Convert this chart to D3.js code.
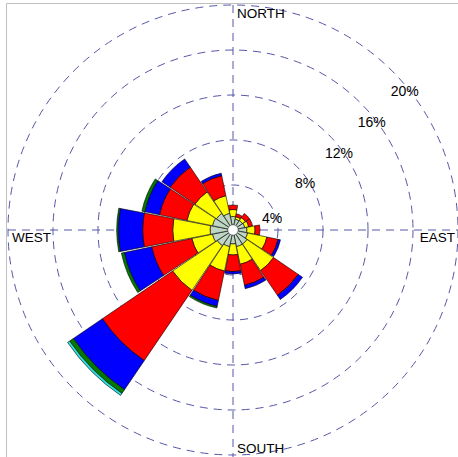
<!DOCTYPE html>
<html>
<head>
<meta charset="utf-8">
<script src="https://cdn.jsdelivr.net/npm/d3@7"></script>
<style>
  html, body { margin: 0; padding: 0; background: #fff; }
  svg { display: block; }
</style>
</head>
<body>
<svg id="chart" width="458" height="457"></svg>
<script>
// Wind directions, clockwise from north
const directions = ["N","NNE","NE","ENE","E","ESE","SE","SSE","S","SSW","SW","WSW","W","WNW","NW","NNW"];

// Frequency (%) per speed class and direction
const bin1 = [1.20,0.98,1.02,1.07,1.24,1.33,1.51,1.51,1.24,1.51,1.69,1.87,2.04,1.87,1.78,1.51];
const bin2 = [0.62,0.22,0.31,0.35,0.72,1.75,2.85,1.60,0.98,2.22,4.80,1.86,3.32,2.31,2.31,1.60];
const bin3 = [0.40,0.27,0.45,0.36,0.44,1.01,2.66,1.91,1.48,2.67,7.55,3.65,2.67,2.49,2.67,1.82];
const bin4 = [0,0,0,0,0,0.22,0.45,0.31,0.21,0.53,3.12,2.49,2.17,1.33,0.88,0.23];
const bin5 = [0,0,0,0,0,0,0,0,0,0.15,0.40,0.26,0.14,0.27,0,0];
const bin6 = [0,0,0,0,0,0,0,0,0,0,0.22,0,0,0,0,0];

// Radial grid
const ringTicks = [4, 8, 12, 16, 20];
const ringLabels = ["4%", "8%", "12%", "16%", "20%"];
const compassLabels = ["NORTH", "EAST", "SOUTH", "WEST"];

const bins = [bin1, bin2, bin3, bin4, bin5, bin6];
const binColors = ["#bfd6c4", "#ffff00", "#ff0000", "#0000ff", "#007a00", "#30e0e0"];

const width = 458, height = 457;
const cx = 233, cy = 230;
const holeRadius = 5;
const gridColor = "#5656a8";
const font = "'Liberation Sans', Arial, Helvetica, sans-serif";

const svg = d3.select("#chart");

// frame
svg.append("path")
  .attr("d", `M6.5,${height}V3.5H${width}`)
  .attr("fill", "none")
  .attr("stroke", "#c0c0c0")
  .attr("stroke-width", 1);

const g = svg.append("g").attr("transform", `translate(${cx},${cy})`);

const r = d3.scaleLinear().domain([0, 20]).range([0, 225]);
const step = 2 * Math.PI / directions.length;
const a = d3.scaleBand()
  .domain(directions)
  .range([-step / 2, 2 * Math.PI - step / 2]);
const pad = 0.45 * Math.PI / 180;

// dashed rings
g.selectAll("circle.ring")
  .data(ringTicks)
  .join("circle")
  .attr("class", "ring")
  .attr("r", d => r(d))
  .attr("fill", "none")
  .attr("stroke", gridColor)
  .attr("stroke-width", 1)
  .attr("stroke-dasharray", "8,6");

// dashed axes
const rMax = r(d3.max(ringTicks));
g.append("line")
  .attr("x1", 0).attr("x2", 0)
  .attr("y1", -rMax).attr("y2", rMax + 5)
  .attr("stroke", gridColor).attr("stroke-dasharray", "8,6");
g.append("line")
  .attr("x1", -rMax).attr("x2", rMax + 5)
  .attr("y1", 0).attr("y2", 0)
  .attr("stroke", gridColor).attr("stroke-dasharray", "8,6");

// stacked sectors
const arc = d3.arc();
const segs = [];
directions.forEach((dir, i) => {
  let base = 0;
  bins.forEach((bin, k) => {
    const v = bin[i];
    if (v > 0) {
      segs.push({
        dir, k,
        inner: base === 0 ? holeRadius : r(base),
        outer: r(base + v)
      });
    }
    base += v;
  });
});

g.selectAll("path.seg")
  .data(segs)
  .join("path")
  .attr("class", "seg")
  .attr("d", d => arc({
    innerRadius: d.inner,
    outerRadius: d.outer,
    startAngle: a(d.dir) + pad,
    endAngle: a(d.dir) + a.bandwidth() - pad
  }))
  .attr("fill", d => binColors[d.k])
  .attr("stroke", "#000")
  .attr("stroke-width", 0.6)
  .attr("stroke-linejoin", "miter");

// calm centre
g.append("circle")
  .attr("r", holeRadius)
  .attr("fill", "#fff")
  .attr("stroke", "#888")
  .attr("stroke-width", 0.5);

// ring labels
const ringLabelAngles = [17, 33, 36, 38, 39];
g.selectAll("text.ringlabel")
  .data(ringTicks)
  .join("text")
  .attr("class", "ringlabel")
  .attr("x", (d, i) => (r(d) - 4) * Math.cos(ringLabelAngles[i] * Math.PI / 180))
  .attr("y", (d, i) => -(r(d) - 4) * Math.sin(ringLabelAngles[i] * Math.PI / 180))
  .attr("text-anchor", "middle")
  .attr("dominant-baseline", "central")
  .attr("font-family", font)
  .attr("font-size", 14)
  .attr("fill", "#000")
  .text((d, i) => ringLabels[i]);

// compass labels
const compassPos = [
  { x: 4, y: -rMax + 3, anchor: "start", base: "hanging" },
  { x: rMax - 3, y: 12, anchor: "end", base: "auto" },
  { x: 4, y: rMax - 2, anchor: "start", base: "auto" },
  { x: -rMax + 4, y: 12, anchor: "start", base: "auto" }
];
g.selectAll("text.compass")
  .data(compassLabels)
  .join("text")
  .attr("class", "compass")
  .attr("x", (d, i) => compassPos[i].x)
  .attr("y", (d, i) => compassPos[i].y)
  .attr("text-anchor", (d, i) => compassPos[i].anchor)
  .attr("dominant-baseline", (d, i) => compassPos[i].base)
  .attr("font-family", font)
  .attr("font-size", 13.5)
  .attr("fill", "#000")
  .text(d => d);
</script>
</body>
</html>
